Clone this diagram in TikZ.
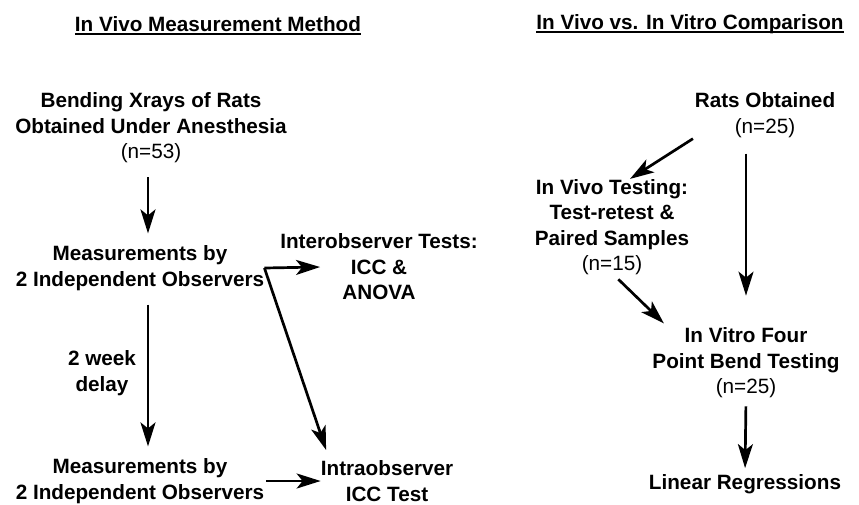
\documentclass[tikz,border=0pt]{standalone}
\usepackage{fontspec}
\setmainfont{Liberation Sans}
\usetikzlibrary{arrows.meta}
\newcommand\samplesize[1]{{\mdseries #1}}

\begin{document}
\begin{tikzpicture}
	 [x=1pt,y=-1pt,
	 every node/.style={align=center,inner sep=0pt,font=\bfseries\fontsize{20.7}{25.5}\selectfont},
	 arr/.style={-{Stealth[length=24pt,width=15pt,inset=6pt]},line width=2.7pt},
	 uline/.style={line width=1.7pt}]

  \useasboundingbox (0,0) rectangle (859,504);

  \node (lefttitle) at (218,24) {In Vivo Measurement Method};
    \node (righttitle) at (690,24) {In Vivo vs. In Vitro Comparison};
    \foreach \t in {lefttitle,righttitle}
    \draw[uline] ([yshift=-2.5pt]\t.base west) -- ([yshift=-2.5pt]\t.base east);

	 \node (xray) at (151,128) {Bending Xrays of Rats\\Obtained Under Anesthesia\\\samplesize{(n=53)}};
    \node (meas1) at (140,268) {Measurements by\\2 Independent Observers};
    \node (inter) at (379,267) {Interobserver Tests:\\ICC \&\\ANOVA};
    \node (delay) at (102,373) {2 week\\delay};
    \node (meas2) at (140,481) {Measurements by\\2 Independent Observers};
    \node (intra) at (387,481) {Intraobserver\\ICC Test};

    \draw[arr,shorten <=14pt,shorten >=12pt] ([xshift=-3pt]xray.south) -- ([xshift=-3pt]xray.south |- meas1.north);
    \draw[arr,shorten <=14pt,shorten >=12pt] ([xshift=8pt]meas1.south) -- ([xshift=8pt]meas2.north);
    \draw[arr] (meas1.east) -- ([xshift=40pt]inter.west);
    \draw[arr,shorten >=11pt] (meas1.east) -- ([xshift=9pt]intra.north west);
    \draw[arr,shorten <=2pt] (meas2.east) -- (intra.west);

	 \node (rats) at (765,115) {Rats Obtained\\\samplesize{(n=25)}};
    \node (vivo) at (612,227) {In Vivo Testing:\\Test-retest \&\\Paired Samples\\\samplesize{(n=15)}};
    \node (vitro) at (746,363) {In Vitro Four\\Point Bend Testing\\\samplesize{(n=25)}};
    \node (linreg) at (745,484) {Linear Regressions};

    \draw[arr,shorten <=2pt] (rats.south west) -- ([xshift=18pt]vivo.north);
    \draw[arr,shorten <=16pt,shorten >=32pt] (vitro.north |- rats.south) -- (vitro.north);
    \draw[arr,shorten <=6pt,shorten >=6pt] ([xshift=2pt]vivo.south) -- ([xshift=16pt]vitro.north west);
    \draw[arr,shorten <=8pt,shorten >=6pt] (vitro.south) -- (linreg.north);

\end{tikzpicture}
\end{document}
